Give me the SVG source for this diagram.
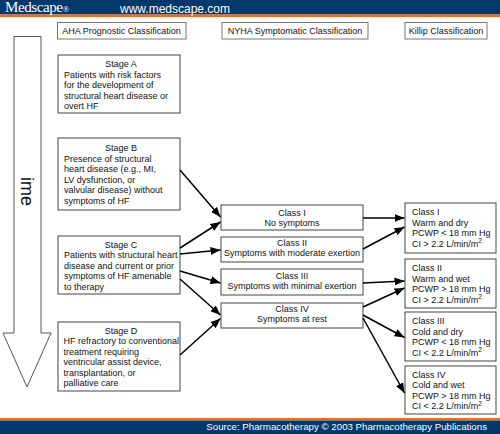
<svg xmlns="http://www.w3.org/2000/svg" width="500" height="434" viewBox="0 0 500 434">
<defs>
<style>
text{font-family:"Liberation Sans",Arial,sans-serif;font-size:9px;fill:#111}
.box{fill:#fff;stroke:#444;stroke-width:1}
.hbox{fill:#fff;stroke:#777;stroke-width:1}
.c{text-anchor:middle}
.con{stroke:#000;stroke-width:1.5;fill:none;marker-end:url(#ah)}
.sup{font-size:6.5px}
</style>
<marker id="ah" markerUnits="userSpaceOnUse" markerWidth="10" markerHeight="8" refX="10" refY="4" orient="auto">
<path d="M0,0 L10,4 L0,8 Z" fill="#000"/>
</marker>
</defs>
<rect width="500" height="434" fill="#fff"/>
<g id="header">
<rect x="0" y="0" width="500" height="14.5" fill="#02386a"/>
<rect x="0" y="14.5" width="500" height="2.5" fill="#f26b1d"/>
<text x="5" y="12" style="font-family:'Liberation Serif','Times New Roman',serif;font-size:15px;fill:#fff;letter-spacing:-0.4px">Medscape<tspan style="font-size:9px">®</tspan></text>
<text x="120" y="12.5" style="font-size:12px;fill:#fff">www.medscape.com</text>
</g>
<g id="footer">
<rect x="0" y="418" width="500" height="2.5" fill="#f26b1d"/>
<rect x="0" y="420.5" width="500" height="13.5" fill="#02386a"/>
<text x="487" y="430" style="font-size:9.7px;fill:#fff;text-anchor:end">Source: Pharmacotherapy © 2003 Pharmacotherapy Publications</text>
</g>
<g id="head-aha"><rect class="hbox" x="57.5" y="22.5" width="128.5" height="16.5"/><text class="c" x="121.5" y="33.5">AHA Prognostic Classification</text></g>
<g id="head-nyha"><rect class="hbox" x="222" y="22.5" width="146" height="16.5"/><text class="c" x="295" y="33.5">NYHA Symptomatic Classification</text></g>
<g id="head-killip"><rect class="hbox" x="405" y="22.5" width="82" height="16.5"/><text class="c" x="446" y="33.5">Killip Classification</text></g>
<g id="time-arrow">
<polygon points="14,36.5 41,36.5 41,333 51,333 27,387 3,333 14,333" fill="#fff" stroke="#555" stroke-width="1"/>
<text transform="translate(21,177) rotate(90)" style="font-size:18px;fill:#111">ime</text>
</g>
<g id="stageA"><rect class="box" x="58" y="55" width="122" height="58"/>
<text class="c" x="121" y="67">Stage A</text>
<text x="64" y="77.5">Patients with risk factors</text>
<text x="64" y="88">for the development of</text>
<text x="64" y="98.5">structural heart disease or</text>
<text x="64" y="109">overt HF</text></g>
<g id="stageB"><rect class="box" x="58" y="138" width="122" height="72"/>
<text class="c" x="121" y="151">Stage B</text>
<text x="64" y="161.5">Presence of structural</text>
<text x="64" y="172">heart disease (e.g., MI,</text>
<text x="64" y="182.5">LV dysfunction, or</text>
<text x="64" y="193">valvular disease) without</text>
<text x="64" y="203.5">symptoms of HF</text></g>
<g id="stageC"><rect class="box" x="58" y="236" width="122" height="58"/>
<text class="c" x="121" y="247.5">Stage C</text>
<text x="64" y="258">Patients with structural heart</text>
<text x="64" y="268.5">disease and current or prior</text>
<text x="64" y="279">symptoms of HF amenable</text>
<text x="64" y="289.5">to therapy</text></g>
<g id="stageD"><rect class="box" x="58" y="322" width="122" height="69"/>
<text class="c" x="121" y="333.5">Stage D</text>
<text x="63.5" y="344">HF refractory to conventional</text>
<text x="63.5" y="354.5">treatment requiring</text>
<text x="63.5" y="365">ventricular assist device,</text>
<text x="63.5" y="375.5">transplantation, or</text>
<text x="63.5" y="386">palliative care</text></g>
<g id="nyha1"><rect class="box" x="221" y="205" width="142" height="25"/>
<text class="c" x="292" y="215.5">Class I</text><text class="c" x="292" y="225.5">No symptoms</text></g>
<g id="nyha2"><rect class="box" x="221" y="237" width="142" height="25"/>
<text class="c" x="292" y="246">Class II</text><text class="c" x="292" y="256">Symptoms with moderate exertion</text></g>
<g id="nyha3"><rect class="box" x="221" y="269" width="142" height="26"/>
<text class="c" x="292" y="279">Class III</text><text class="c" x="292" y="289">Symptoms with minimal exertion</text></g>
<g id="nyha4"><rect class="box" x="221" y="303" width="142" height="25"/>
<text class="c" x="292" y="311.5">Class IV</text><text class="c" x="292" y="321.5">Symptoms at rest</text></g>
<g id="killip1"><rect class="box" x="405" y="203" width="91" height="50"/>
<text x="412" y="215">Class I</text><text x="412" y="225.5">Warm and dry</text><text x="412" y="236">PCWP &lt; 18 mm Hg</text><text x="412" y="246.5">CI &gt; 2.2 L/min/m<tspan class="sup" dy="-3.5">2</tspan></text></g>
<g id="killip2"><rect class="box" x="405" y="259" width="91" height="49"/>
<text x="412" y="271">Class II</text><text x="412" y="281.5">Warm and wet</text><text x="412" y="292">PCWP &gt; 18 mm Hg</text><text x="412" y="302.5">CI &gt; 2.2 L/min/m<tspan class="sup" dy="-3.5">2</tspan></text></g>
<g id="killip3"><rect class="box" x="405" y="312" width="91" height="49"/>
<text x="412" y="324">Class III</text><text x="412" y="334.5">Cold and dry</text><text x="412" y="345">PCWP &lt; 18 mm Hg</text><text x="412" y="355.5">CI &lt; 2.2 L/min/m<tspan class="sup" dy="-3.5">2</tspan></text></g>
<g id="killip4"><rect class="box" x="405" y="366" width="91" height="48"/>
<text x="412" y="377.5">Class IV</text><text x="412" y="388">Cold and wet</text><text x="412" y="398.5">PCWP &gt; 18 mm Hg</text><text x="412" y="409">CI &lt; 2.2 L/min/m<tspan class="sup" dy="-3.5">2</tspan></text></g>
<g id="connectors">
<line class="con" x1="180" y1="170" x2="220.5" y2="217"/>
<line class="con" x1="180" y1="248" x2="220.5" y2="222"/>
<line class="con" x1="180" y1="254" x2="220.5" y2="250"/>
<line class="con" x1="180" y1="271" x2="220.5" y2="283"/>
<line class="con" x1="180" y1="279" x2="220.5" y2="315"/>
<line class="con" x1="180" y1="355" x2="220.5" y2="318.5"/>
<line class="con" x1="363" y1="218" x2="404.5" y2="218"/>
<line class="con" x1="363" y1="249" x2="404.5" y2="227"/>
<line class="con" x1="363" y1="283" x2="404.5" y2="281"/>
<line class="con" x1="363" y1="307" x2="404.5" y2="288"/>
<line class="con" x1="363" y1="315" x2="404.5" y2="337.5"/>
<line class="con" x1="363" y1="318" x2="404.5" y2="393"/>
</g>
</svg>
